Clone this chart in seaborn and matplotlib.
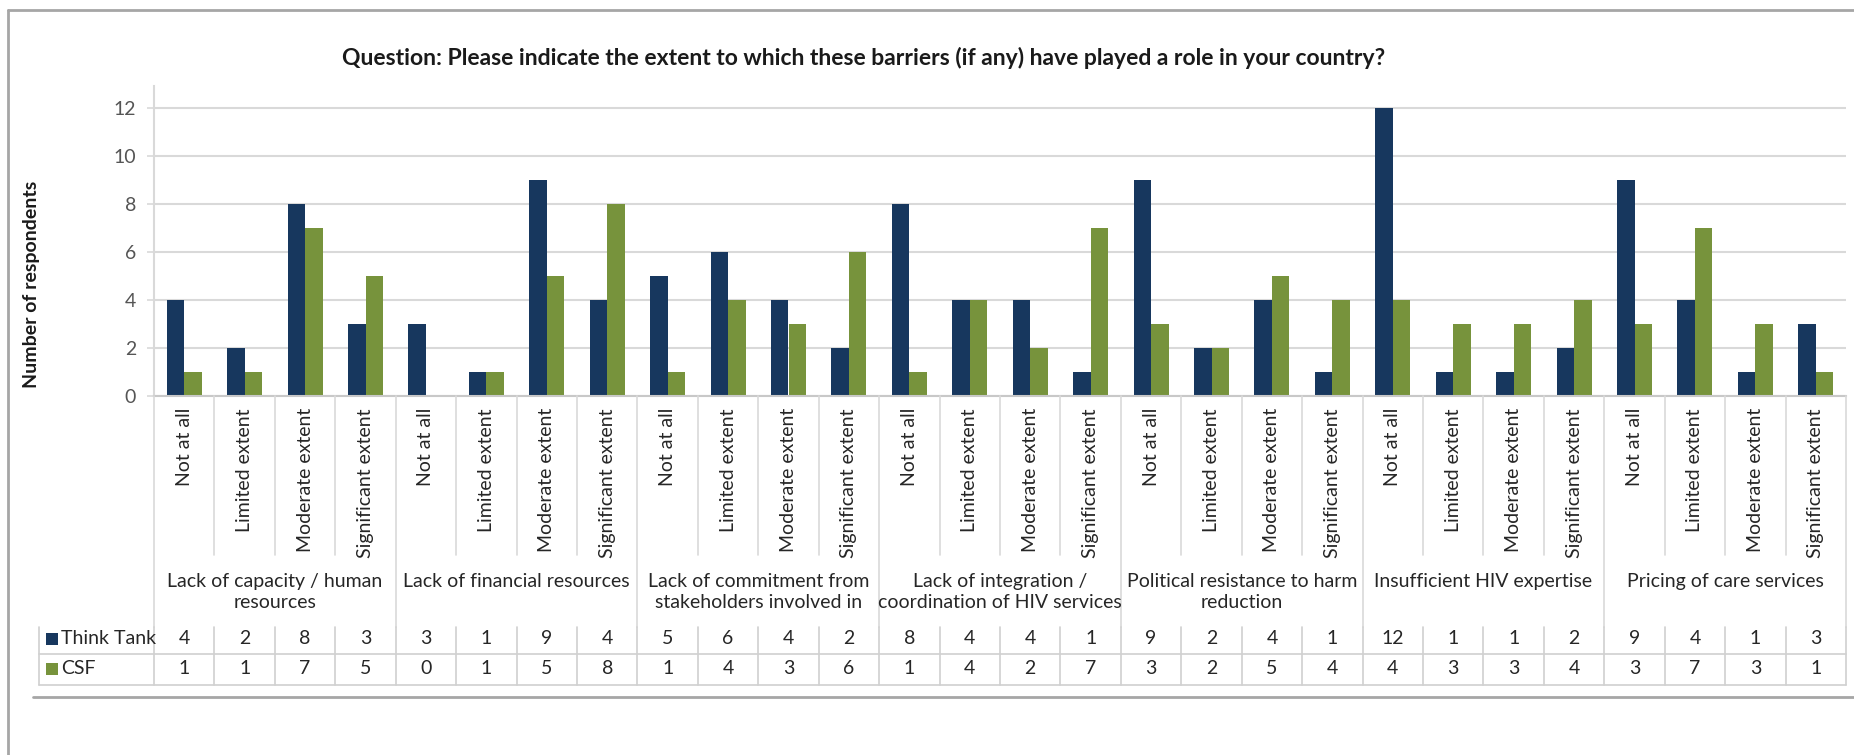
import numpy as np
import pandas as pd
import matplotlib
matplotlib.use("Agg")
import matplotlib.pyplot as plt
import matplotlib.transforms as mtransforms
from matplotlib.lines import Line2D
from matplotlib.patches import Rectangle
import seaborn as sns

# ---------------- data ----------------
groups = [
    "Lack of capacity / human\nresources",
    "Lack of financial resources",
    "Lack of commitment from\nstakeholders involved in",
    "Lack of integration /\ncoordination of HIV services",
    "Political resistance to harm\nreduction",
    "Insufficient HIV expertise",
    "Pricing of care services",
]
levels = ["Not at all", "Limited extent", "Moderate extent", "Significant extent"]
think_tank = [4, 2, 8, 3, 3, 1, 9, 4, 5, 6, 4, 2, 8, 4, 4, 1, 9, 2, 4, 1, 12, 1, 1, 2, 9, 4, 1, 3]
csf = [1, 1, 7, 5, 0, 1, 5, 8, 1, 4, 3, 6, 1, 4, 2, 7, 3, 2, 5, 4, 4, 3, 3, 4, 3, 7, 3, 1]
series_names = ["Think Tank", "CSF"]
y_ticks = [0, 2, 4, 6, 8, 10, 12]
title = "Question: Please indicate the extent to which these barriers (if any) have played a role in your country?"
y_label = "Number of respondents"

# ---------------- style ----------------
W, H = 1854, 755
NAVY = "#17375E"
GREEN = "#77933C"
GRID = "#D9D9D9"
TABLE = "#D0D0D0"
TEXT = "#262626"

sns.set_theme(style="white")
plt.rcParams["font.family"] = ["Lato", "DejaVu Sans"]

keys = [f"{g}|{l}" for g in groups for l in levels]
df = pd.DataFrame({
    "key": keys * 2,
    "series": [series_names[0]] * len(keys) + [series_names[1]] * len(keys),
    "value": think_tank + csf,
})

fig = plt.figure(figsize=(W / 100, H / 100), dpi=100)


def fx(px):
    return px / W


def fy(py):
    return 1 - py / H


ax_left, ax_right = 154, 1846
y0_px, unit_px = 396, 24.0
ymax = 12.9
ax = fig.add_axes([fx(ax_left), fy(y0_px), (ax_right - ax_left) / W, ymax * unit_px / H])

sns.barplot(data=df, x="key", y="value", hue="series", order=keys, hue_order=series_names,
            palette=[NAVY, GREEN], width=0.58, gap=0, saturation=1, errorbar=None,
            legend=False, linewidth=0, ax=ax)

n = len(keys)
ax.set_xlim(-0.5, n - 0.5)
ax.set_ylim(0, ymax)
ax.set_yticks(y_ticks)
ax.set_xticks([])
ax.set_xlabel("")
ax.set_ylabel("")
ax.grid(axis="y", color=GRID, lw=1.5)
ax.set_axisbelow(True)
for s in ["top", "right"]:
    ax.spines[s].set_visible(False)
ax.spines["left"].set_color(GRID)
ax.spines["left"].set_linewidth(1.5)
ax.spines["bottom"].set_color("#C8C8C8")
ax.spines["bottom"].set_linewidth(1.5)
ax.tick_params(axis="y", left=True, length=5, width=1.2, color=GRID, pad=8,
               labelsize=14, labelcolor="#555555")

tr = mtransforms.blended_transform_factory(ax.transData, fig.transFigure)

# category labels
for i, k in enumerate(keys):
    fig.text(i, fy(408), levels[i % len(levels)], transform=tr, rotation=90,
             ha="center", va="top", fontsize=14, color=TEXT)

# separators in category area
for b in range(n + 1):
    x = b - 0.5
    bottom = 627 if b % len(levels) == 0 else 555
    fig.add_artist(Line2D([x, x], [fy(y0_px), fy(bottom)], transform=tr, color=GRID, lw=1.2))
    # table verticals
    fig.add_artist(Line2D([x, x], [fy(627), fy(685)], transform=tr, color=TABLE, lw=1.2))

# group labels
for gi, g in enumerate(groups):
    cx = gi * len(levels) + (len(levels) - 1) / 2
    fig.text(cx, fy(573), g, transform=tr, ha="center", va="top", fontsize=14,
             color=TEXT, multialignment="center", linespacing=1.32)

# table
fig.add_artist(Line2D([fx(39), fx(39)], [fy(627), fy(685)], transform=fig.transFigure, color=TABLE, lw=1.2))
for yl in (654, 685):
    fig.add_artist(Line2D([fx(39), fx(ax_right)], [fy(yl), fy(yl)], transform=fig.transFigure, color=TABLE, lw=1.2))
rows = [(think_tank, NAVY, 639), (csf, GREEN, 669)]
for (vals, col, yc), name in zip(rows, series_names):
    fig.add_artist(Rectangle((fx(46), fy(yc + 6)), 12 / W, 12 / H, transform=fig.transFigure,
                             facecolor=col, edgecolor="none"))
    fig.text(fx(61), fy(yc), name, ha="left", va="center", fontsize=14, color=TEXT)
    for i, v in enumerate(vals):
        fig.text(i, fy(yc), str(v), transform=tr, ha="center", va="center", fontsize=14, color=TEXT)

# bottom line and frame
fig.add_artist(Line2D([fx(33), 1], [fy(697), fy(697)], transform=fig.transFigure, color="#A6A6A6", lw=2))
fig.add_artist(Line2D([fx(8), 1], [fy(10), fy(10)], transform=fig.transFigure, color="#A6A6A6", lw=2))
fig.add_artist(Line2D([fx(8), fx(8)], [fy(10), 0], transform=fig.transFigure, color="#A6A6A6", lw=2))

# titles
fig.text(fx(864), fy(58), title, ha="center", va="center", fontsize=16.5, fontweight="bold", color="#1A1A1A")
fig.text(fx(32), fy(284), y_label, rotation=90, ha="center", va="center", fontsize=14,
         fontweight="bold", color="#1A1A1A")

fig.savefig("out.png", dpi=100)
